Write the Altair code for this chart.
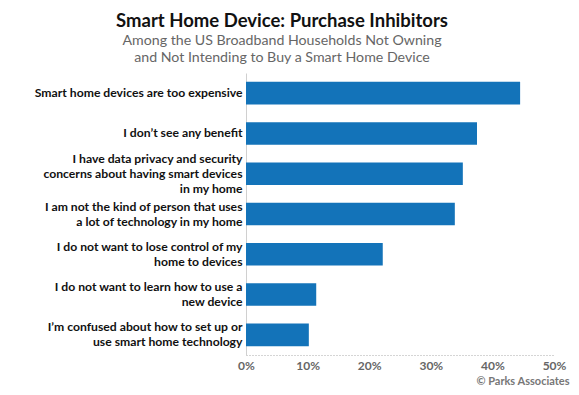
import altair as alt
import pandas as pd

categories = [
    "Smart home devices are too expensive",
    "I don\u2019t see any benefit",
    "I have data privacy and security|concerns about having smart devices|in my home",
    "I am not the kind of person that uses|a lot of technology in my home",
    "I do not want to lose control of my|home to devices",
    "I do not want to learn how to use a|new device",
    "I\u2019m confused about how to set up  or|use smart home technology",
]
values = [0.445, 0.375, 0.352, 0.339, 0.222, 0.114, 0.102]
x_ticks = [0, 0.1, 0.2, 0.3, 0.4, 0.5]

df = pd.DataFrame({"reason": categories, "share": values})

label_font = "Lato, sans-serif"
nlines = "length(split(datum.value, '|'))"

chart = (
    alt.Chart(df)
    .mark_bar(color="#1373b9")
    .encode(
        y=alt.Y(
            "reason:N",
            sort=categories,
            title=None,
            scale=alt.Scale(paddingInner=0.44, paddingOuter=0.22),
            axis=alt.Axis(
                labelExpr="split(datum.label, '|')",
                labelFont=label_font,
                labelFontSize=12.2,
                labelFontWeight="bold",
                labelColor="#111111",
                labelLimit=300,
                labelLineHeight=15,
                labelPadding=4,
                labelOffset={
                    "condition": [
                        {"test": nlines + " == 3", "value": -15},
                        {"test": nlines + " == 2", "value": -7.5},
                    ],
                    "value": 0,
                },
                ticks=False,
                domainColor="#d0d0d0",
                domainWidth=1,
            ),
        ),
        x=alt.X(
            "share:Q",
            scale=alt.Scale(domain=[0, 0.5]),
            axis=alt.Axis(
                values=x_ticks,
                format=".0%",
                grid=False,
                ticks=False,
                labelFlush=False,
                domainDash=[1, 2],
                domainColor="#aaaaaa",
                labelFont="Lato, sans-serif",
                labelFontSize=12,
                labelFontWeight="bold",
                labelColor="#666666",
                labelPadding=5,
                title="\u00a9 Parks Associates",
                titleFont="Lato, sans-serif",
                titleFontSize=11,
                titleFontWeight="bold",
                titleColor="#777777",
                titleAlign="right",
                titleBaseline="alphabetic",
                titleX=323,
                titleY=29,
            ),
        ),
    )
    .properties(
        width=308,
        height=282,
        padding={"left": 238, "top": 65, "right": 17, "bottom": 31},
        autosize=alt.AutoSizeParams(type="none"),
        title=alt.TitleParams(
            text="Smart Home Device: Purchase Inhibitors",
            subtitle=[
                "Among the US Broadband Households Not Owning",
                "and Not Intending to Buy a Smart Home Device",
            ],
            anchor="middle",
            dx=-118,
            font="Lato, sans-serif",
            fontSize=18.5,
            fontWeight="bold",
            color="#111111",
            subtitleFont="Lato, sans-serif",
            subtitleFontSize=14.2,
            subtitleColor="#666666",
            subtitleLineHeight=17,
            subtitlePadding=3,
            offset=8,
        ),
    )
    .configure_view(stroke=None)
)

chart.save("out.html", embed_options={"renderer": "svg", "actions": False})
